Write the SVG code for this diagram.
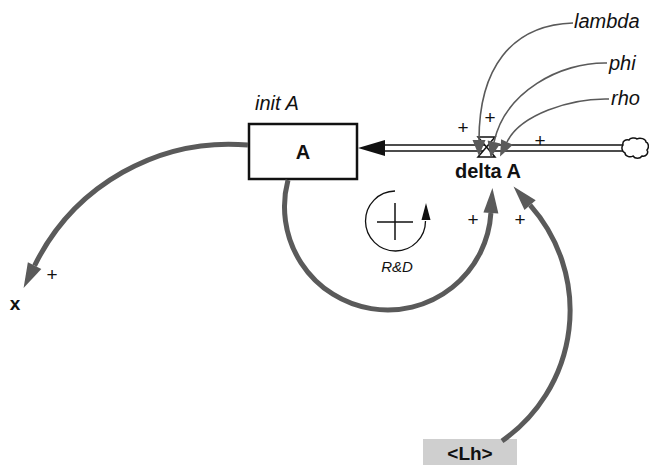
<svg xmlns="http://www.w3.org/2000/svg" width="649" height="465" viewBox="0 0 649 465">
<defs>
<style>
.t{font-family:"Liberation Sans",Arial,sans-serif;fill:#111}
.b{font-weight:bold}
.i{font-style:italic}
.thick{fill:none;stroke:#5a5a5a;stroke-width:5}
.thin{fill:none;stroke:#5a5a5a;stroke-width:1.6}
.pl{font-size:19px;text-anchor:middle}
</style>
<marker id="big" markerUnits="userSpaceOnUse" markerWidth="26" markerHeight="16" refX="0" refY="7.5" orient="auto" overflow="visible">
<path d="M0,0 L25,7.5 L0,15 z" fill="#5a5a5a"/>
</marker>
<marker id="small" markerUnits="userSpaceOnUse" markerWidth="17" markerHeight="14" refX="0" refY="6.5" orient="auto" overflow="visible">
<path d="M0,0 L16,6.5 L0,13 z" fill="#5a5a5a"/>
</marker>
</defs>
<rect width="649" height="465" fill="#fff"/>
<g id="flow-pipe">
<line x1="385" y1="145" x2="623" y2="145" stroke="#111" stroke-width="1.5"/>
<line x1="385" y1="151" x2="623" y2="151" stroke="#111" stroke-width="1.5"/>
<path d="M358,148 L385,140 L385,156 z" fill="#111"/>
</g>
<g id="node-A">
<rect x="249" y="124" width="108" height="55" fill="#fff" stroke="#111" stroke-width="2.5"/>
<text class="t b" x="303" y="159" font-size="20" text-anchor="middle">A</text>
<text class="t i" x="255" y="110" font-size="20">init A</text>
</g>
<g id="node-cloud">
<path d="M623,145 c-1,-4 3,-6 6,-5 c1,-2 6,-3 8,-1 c3,-2 9,0 9,3 c3,1 3,6 1,8 c2,3 -1,7 -5,6 c-2,3 -7,3 -9,0 c-3,2 -8,0 -8,-3 c-3,-1 -4,-6 -2,-8 z" fill="#fff" stroke="#111" stroke-width="1.5"/>
</g>
<g id="node-deltaA">
<path d="M478,137 L495,137 L478,157 L495,157 z" fill="#fff" stroke="#111" stroke-width="1.5"/>
<text class="t b" x="488" y="178" font-size="20" text-anchor="middle">delta A</text>
</g>
<g id="node-lambda"><text class="t i" x="574" y="28" font-size="20">lambda</text></g>
<g id="node-phi"><text class="t i" x="609" y="70" font-size="20">phi</text></g>
<g id="node-rho"><text class="t i" x="611" y="105" font-size="20">rho</text></g>
<g id="node-x"><text class="t b" x="15" y="310" font-size="19" text-anchor="middle">x</text></g>
<g id="node-Lh">
<rect x="423" y="439" width="94" height="26" fill="#cfcfcf"/>
<text class="t b" x="470" y="460" font-size="19" text-anchor="middle">&lt;Lh&gt;</text>
</g>
<g id="loop-RD">
<path d="M395,191 A30,30 0 1 0 425.5,221" fill="none" stroke="#111" stroke-width="1.3"/>
<path d="M426,203 L430.5,220 L421.5,220 z" fill="#111"/>
<line x1="377" y1="222" x2="413" y2="222" stroke="#111" stroke-width="1.5"/>
<line x1="395" y1="203" x2="395" y2="240" stroke="#111" stroke-width="1.5"/>
<text class="t i" x="397" y="272" font-size="15" text-anchor="middle">R&amp;D</text>
</g>
<g id="connectors">
<path class="thick" d="M248,145 A217,217 0 0 0 34.6,265.6" marker-end="url(#big)"/>
<path class="thick" d="M288,180 A103.3,103.3 0 1 0 490.9,213" marker-end="url(#big)"/>
<path class="thick" d="M502,441 A159,159 0 0 0 530.1,205.1" marker-end="url(#big)"/>
<path class="thin" d="M573,23 C510,25 479,70 479,140" marker-end="url(#small)"/>
<path class="thin" d="M607,63 C560,62 505,92 494,142" marker-end="url(#small)"/>
<path class="thin" d="M609,99 C570,98 520,115 507,142" marker-end="url(#small)"/>
</g>
<g id="polarities">
<text class="t pl" x="463" y="134">+</text>
<text class="t pl" x="490" y="124">+</text>
<text class="t pl" x="540" y="147">+</text>
<text class="t pl" x="473" y="226">+</text>
<text class="t pl" x="520" y="226">+</text>
<text class="t pl" x="52" y="281">+</text>
</g>
</svg>
